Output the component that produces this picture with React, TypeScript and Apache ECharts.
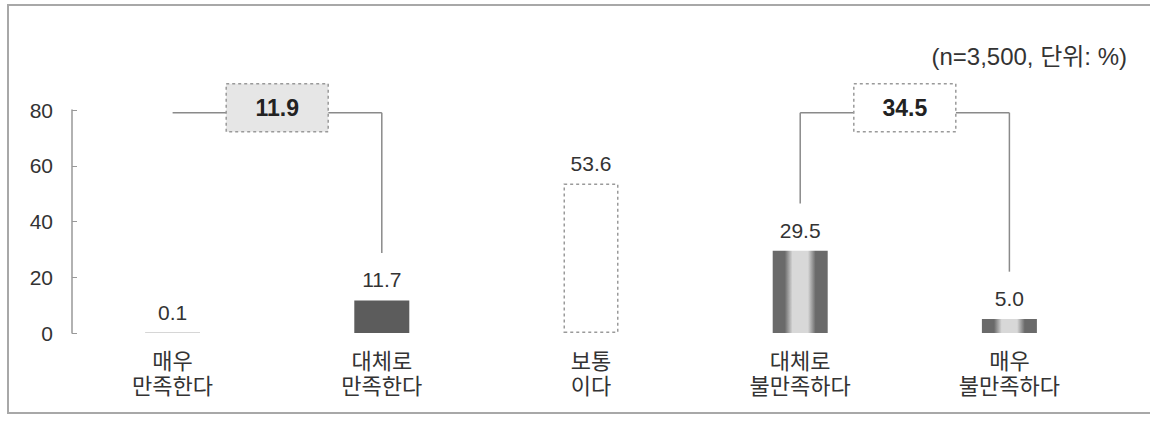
import React, { useEffect, useRef } from "react";
import * as echarts from "echarts";

// ---- data ----
const categories = ["매우\n만족한다", "대체로\n만족한다", "보통\n이다", "대체로\n불만족하다", "매우\n불만족하다"];
const values = [0.1, 11.7, 53.6, 29.5, 5.0];
const yMin = 0;
const yMax = 80;
const yInterval = 20;
const titleText = "(n=3,500, 단위: %)";
// grouped totals (brackets)
const groupStart = [0, 3];
const groupEnd = [1, 4];
const groupTotals = [11.9, 34.5];

// ---- styles ----
const FONT = "'Liberation Sans', 'Noto Sans CJK KR', sans-serif";
const sideGradient = new echarts.graphic.LinearGradient(0, 0, 1, 0, [
  { offset: 0, color: "#6a6a6a" },
  { offset: 0.22, color: "#6a6a6a" },
  { offset: 0.36, color: "#d8d8d8" },
  { offset: 0.64, color: "#d8d8d8" },
  { offset: 0.78, color: "#6a6a6a" },
  { offset: 1, color: "#6a6a6a" },
]);
const barStyles: any[] = [
  { color: "#5c5c5c" },
  { color: "#5c5c5c" },
  { color: "#ffffff", borderColor: "#9a9a9a", borderWidth: 1.5, borderType: [3, 3] },
  { color: sideGradient },
  { color: sideGradient },
];
const boxFills = ["#e6e6e6", "#ffffff"];
const showLeftLeg = [false, true];

export default function App() {
  const ref = useRef<HTMLDivElement>(null);

  useEffect(() => {
    if (!ref.current) return;
    const chart = echarts.init(ref.current, undefined, { renderer: "svg" });

    const bracketLevel = 79;
    const legGap = 17;

    const option: any = {
      animation: false,
      backgroundColor: "#ffffff",
      title: {
        text: titleText,
        right: 18,
        top: 39,
        textStyle: { fontSize: 24, fontWeight: "normal", color: "#333", fontFamily: FONT },
      },
      grid: { left: 68, right: 36, top: 110, bottom: 88 },
      xAxis: {
        type: "category",
        data: categories,
        axisLine: { show: false },
        axisTick: { show: false },
        axisLabel: {
          interval: 0,
          fontSize: 22,
          lineHeight: 25,
          color: "#333",
          margin: 16,
          fontFamily: FONT,
        },
      },
      yAxis: {
        type: "value",
        min: yMin,
        max: yMax,
        interval: yInterval,
        offset: -4,
        axisLine: { show: true, lineStyle: { color: "#999", width: 1.5 } },
        axisTick: { show: true, inside: true, length: 5, lineStyle: { color: "#999" } },
        splitLine: { show: false },
        axisLabel: { fontSize: 21, color: "#333", margin: 19, fontFamily: FONT },
      },
      graphic: [
        {
          type: "rect",
          shape: { x: 8, y: 5, width: 1400, height: 408 },
          style: { fill: "none", stroke: "#a8a8a8", lineWidth: 2 },
          silent: true,
        },
      ],
      series: [
        {
          type: "bar",
          barWidth: 55,
          data: values.map((v, i) => ({ value: v, itemStyle: barStyles[i] })),
          label: {
            show: true,
            position: "top",
            distance: 10,
            fontSize: 21,
            color: "#333",
            fontFamily: FONT,
            formatter: (p: any) => values[p.dataIndex].toFixed(1),
          },
        },
        {
          type: "custom",
          data: groupTotals,
          z: 10,
          renderItem: (params: any, api: any) => {
            const i = params.dataIndex;
            const a = groupStart[i];
            const b = groupEnd[i];
            const pA = api.coord([a, bracketLevel]);
            const pB = api.coord([b, bracketLevel]);
            const endA = api.coord([a, values[a] + legGap]);
            const endB = api.coord([b, values[b] + legGap]);
            const midX = (pA[0] + pB[0]) / 2;
            const y = pA[1];
            const boxW = 102;
            const boxH = 48;
            const lineStyle = { stroke: "#8a8a8a", lineWidth: 1.5, fill: "none" };
            const children: any[] = [
              { type: "line", shape: { x1: pA[0], y1: y, x2: midX - boxW / 2, y2: y }, style: lineStyle },
              { type: "line", shape: { x1: midX + boxW / 2, y1: y, x2: pB[0], y2: y }, style: lineStyle },
              { type: "line", shape: { x1: pB[0], y1: y, x2: pB[0], y2: endB[1] }, style: lineStyle },
              {
                type: "rect",
                shape: { x: midX - boxW / 2, y: y - 29, width: boxW, height: boxH },
                style: { fill: boxFills[i], stroke: "#9a9a9a", lineWidth: 1.5, lineDash: [3, 3] },
              },
              {
                type: "text",
                style: {
                  text: groupTotals[i].toFixed(1),
                  x: midX,
                  y: y - 5,
                  align: "center",
                  verticalAlign: "middle",
                  fill: "#222",
                  font: `bold 23px ${FONT}`,
                },
              },
            ];
            if (showLeftLeg[i]) {
              children.push({ type: "line", shape: { x1: pA[0], y1: y, x2: pA[0], y2: endA[1] }, style: lineStyle });
            }
            return { type: "group", children };
          },
        },
      ],
    };

    chart.setOption(option);
    return () => chart.dispose();
  }, []);

  return (
    <div
      ref={ref}
      style={{ position: "fixed", left: 0, top: 0, width: 1150, height: 421, background: "#fff" }}
    />
  );
}
